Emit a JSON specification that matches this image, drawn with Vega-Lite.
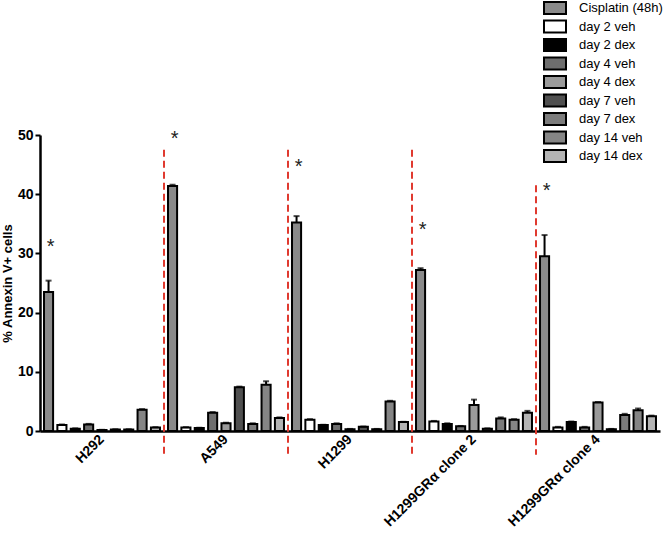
{
  "$schema": "https://vega.github.io/schema/vega-lite/v6.json",
  "width": 620,
  "height": 296,
  "autosize": "none",
  "padding": {"left": 40, "top": 135, "right": 8, "bottom": 104},
  "background": "white",
  "config": {
    "font": "Liberation Sans",
    "view": {"stroke": null},
    "axis": {"domainColor": "black", "domainWidth": 2, "tickColor": "black", "tickWidth": 2, "labelColor": "black", "titleColor": "black", "grid": false}
  },
  "datasets": {
    "bars": [
      {"group": "H292", "series": "Cisplatin (48h)", "value": 23.5, "hi": 25.4},
      {"group": "H292", "series": "day 2 veh", "value": 1.0, "hi": 1.1},
      {"group": "H292", "series": "day 2 dex", "value": 0.4, "hi": 0.45},
      {"group": "H292", "series": "day 4 veh", "value": 1.1, "hi": 1.2},
      {"group": "H292", "series": "day 4 dex", "value": 0.15, "hi": 0.2},
      {"group": "H292", "series": "day 7 veh", "value": 0.25, "hi": 0.3},
      {"group": "H292", "series": "day 7 dex", "value": 0.25, "hi": 0.3},
      {"group": "H292", "series": "day 14 veh", "value": 3.6, "hi": 3.7},
      {"group": "H292", "series": "day 14 dex", "value": 0.6, "hi": 0.65},
      {"group": "A549", "series": "Cisplatin (48h)", "value": 41.4, "hi": 41.6},
      {"group": "A549", "series": "day 2 veh", "value": 0.6, "hi": 0.65},
      {"group": "A549", "series": "day 2 dex", "value": 0.5, "hi": 0.55},
      {"group": "A549", "series": "day 4 veh", "value": 3.1, "hi": 3.2},
      {"group": "A549", "series": "day 4 dex", "value": 1.3, "hi": 1.4},
      {"group": "A549", "series": "day 7 veh", "value": 7.4, "hi": 7.5},
      {"group": "A549", "series": "day 7 dex", "value": 1.2, "hi": 1.3},
      {"group": "A549", "series": "day 14 veh", "value": 7.8, "hi": 8.4},
      {"group": "A549", "series": "day 14 dex", "value": 2.2, "hi": 2.3},
      {"group": "H1299", "series": "Cisplatin (48h)", "value": 35.2, "hi": 36.3},
      {"group": "H1299", "series": "day 2 veh", "value": 1.9, "hi": 2.0},
      {"group": "H1299", "series": "day 2 dex", "value": 1.0, "hi": 1.05},
      {"group": "H1299", "series": "day 4 veh", "value": 1.2, "hi": 1.3},
      {"group": "H1299", "series": "day 4 dex", "value": 0.3, "hi": 0.35},
      {"group": "H1299", "series": "day 7 veh", "value": 0.7, "hi": 0.75},
      {"group": "H1299", "series": "day 7 dex", "value": 0.3, "hi": 0.35},
      {"group": "H1299", "series": "day 14 veh", "value": 5.0, "hi": 5.1},
      {"group": "H1299", "series": "day 14 dex", "value": 1.5, "hi": 1.55},
      {"group": "H1299GRα clone 2", "series": "Cisplatin (48h)", "value": 27.2, "hi": 27.5},
      {"group": "H1299GRα clone 2", "series": "day 2 veh", "value": 1.6, "hi": 1.7},
      {"group": "H1299GRα clone 2", "series": "day 2 dex", "value": 1.2, "hi": 1.3},
      {"group": "H1299GRα clone 2", "series": "day 4 veh", "value": 0.8, "hi": 0.85},
      {"group": "H1299GRα clone 2", "series": "day 4 dex", "value": 4.4, "hi": 5.3},
      {"group": "H1299GRα clone 2", "series": "day 7 veh", "value": 0.4, "hi": 0.45},
      {"group": "H1299GRα clone 2", "series": "day 7 dex", "value": 2.1, "hi": 2.3},
      {"group": "H1299GRα clone 2", "series": "day 14 veh", "value": 1.9, "hi": 2.0},
      {"group": "H1299GRα clone 2", "series": "day 14 dex", "value": 3.1, "hi": 3.4},
      {"group": "H1299GRα clone 4", "series": "Cisplatin (48h)", "value": 29.5, "hi": 33.1},
      {"group": "H1299GRα clone 4", "series": "day 2 veh", "value": 0.6, "hi": 0.7},
      {"group": "H1299GRα clone 4", "series": "day 2 dex", "value": 1.5, "hi": 1.6},
      {"group": "H1299GRα clone 4", "series": "day 4 veh", "value": 0.6, "hi": 0.7},
      {"group": "H1299GRα clone 4", "series": "day 4 dex", "value": 4.8, "hi": 4.9},
      {"group": "H1299GRα clone 4", "series": "day 7 veh", "value": 0.3, "hi": 0.35},
      {"group": "H1299GRα clone 4", "series": "day 7 dex", "value": 2.7, "hi": 2.9},
      {"group": "H1299GRα clone 4", "series": "day 14 veh", "value": 3.5, "hi": 3.8},
      {"group": "H1299GRα clone 4", "series": "day 14 dex", "value": 2.5, "hi": 2.6}
    ],
    "stars": [
      {"group": "H292", "series": "Cisplatin (48h)", "y": 31.0},
      {"group": "A549", "series": "Cisplatin (48h)", "y": 49.3},
      {"group": "H1299", "series": "Cisplatin (48h)", "y": 44.6},
      {"group": "H1299GRα clone 2", "series": "Cisplatin (48h)", "y": 33.9},
      {"group": "H1299GRα clone 4", "series": "Cisplatin (48h)", "y": 40.6}
    ],
    "dividers": [
      {"group": "A549", "top": 47.5, "bottom": -4},
      {"group": "H1299", "top": 47.5, "bottom": -4},
      {"group": "H1299GRα clone 2", "top": 47.5, "bottom": -4},
      {"group": "H1299GRα clone 4", "top": 41.5, "bottom": -4}
    ]
  },
  "encoding": {
    "x": {
      "field": "group", "type": "nominal",
      "sort": ["H292", "A549", "H1299", "H1299GRα clone 2", "H1299GRα clone 4"],
      "scale": {"paddingInner": 0, "paddingOuter": 0},
      "axis": {"title": null, "labelAngle": -45, "labelAlign": "right", "labelBaseline": "middle", "labelFontWeight": "bold", "labelFontSize": 14, "ticks": false, "labelPadding": 6, "domainWidth": 2.5}
    }
  },
  "layer": [
    {
      "data": {"name": "dividers"},
      "mark": {"type": "rule", "color": "#e03a2f", "strokeWidth": 2, "strokeDash": [7, 4]},
      "encoding": {
        "x": {"field": "group", "type": "nominal", "bandPosition": 0, "sort": ["H292", "A549", "H1299", "H1299GRα clone 2", "H1299GRα clone 4"]},
        "y": {"field": "top", "type": "quantitative"},
        "y2": {"field": "bottom"}
      }
    },
    {
      "data": {"name": "bars"},
      "mark": {"type": "bar", "stroke": "black", "strokeWidth": 2},
      "encoding": {
        "xOffset": {"field": "series", "type": "nominal", "sort": ["Cisplatin (48h)", "day 2 veh", "day 2 dex", "day 4 veh", "day 4 dex", "day 7 veh", "day 7 dex", "day 14 veh", "day 14 dex"], "scale": {"paddingInner": 0.32, "paddingOuter": 0.3}},
        "y": {
          "field": "value", "type": "quantitative",
          "scale": {"domain": [0, 50], "nice": false},
          "axis": {"title": "% Annexin V+ cells", "titleFontSize": 13, "titleFontWeight": "bold", "titlePadding": 3, "labelPadding": 2, "values": [0, 10, 20, 30, 40, 50], "labelFontSize": 14, "labelFontWeight": "bold", "tickSize": 5, "domainWidth": 2.5}
        },
        "fill": {
          "field": "series", "type": "nominal",
          "sort": ["Cisplatin (48h)", "day 2 veh", "day 2 dex", "day 4 veh", "day 4 dex", "day 7 veh", "day 7 dex", "day 14 veh", "day 14 dex"],
          "scale": {"domain": ["Cisplatin (48h)", "day 2 veh", "day 2 dex", "day 4 veh", "day 4 dex", "day 7 veh", "day 7 dex", "day 14 veh", "day 14 dex"], "range": ["#8a8a8a", "#ffffff", "#000000", "#6e6e6e", "#9a9a9a", "#505050", "#7c7c7c", "#858585", "#b4b4b4"]},
          "legend": {
            "title": null, "orient": "none", "legendX": 503, "legendY": -135,
            "symbolType": "M-1,-0.55H1V0.55H-1Z", "symbolSize": 484, "symbolStrokeColor": "black", "symbolStrokeWidth": 2, "symbolOpacity": 1,
            "labelFontSize": 13, "labelColor": "black", "labelOffset": 12, "clipHeight": 16, "rowPadding": 2.5
          }
        }
      }
    },
    {
      "data": {"name": "bars"},
      "mark": {"type": "rule", "color": "black", "strokeWidth": 2},
      "encoding": {
        "xOffset": {"field": "series", "type": "nominal", "sort": ["Cisplatin (48h)", "day 2 veh", "day 2 dex", "day 4 veh", "day 4 dex", "day 7 veh", "day 7 dex", "day 14 veh", "day 14 dex"]},
        "y": {"field": "value", "type": "quantitative"},
        "y2": {"field": "hi"}
      }
    },
    {
      "data": {"name": "bars"},
      "mark": {"type": "tick", "color": "black", "thickness": 2, "size": 6, "orient": "horizontal"},
      "encoding": {
        "xOffset": {"field": "series", "type": "nominal", "sort": ["Cisplatin (48h)", "day 2 veh", "day 2 dex", "day 4 veh", "day 4 dex", "day 7 veh", "day 7 dex", "day 14 veh", "day 14 dex"]},
        "y": {"field": "hi", "type": "quantitative"}
      }
    },
    {
      "data": {"name": "stars"},
      "mark": {"type": "text", "text": "*", "fontSize": 20, "color": "#222", "baseline": "middle", "dx": 2},
      "encoding": {
        "xOffset": {"field": "series", "type": "nominal", "sort": ["Cisplatin (48h)", "day 2 veh", "day 2 dex", "day 4 veh", "day 4 dex", "day 7 veh", "day 7 dex", "day 14 veh", "day 14 dex"]},
        "y": {"field": "y", "type": "quantitative"}
      }
    }
  ],
  "resolve": {"scale": {"xOffset": "shared"}}
}
